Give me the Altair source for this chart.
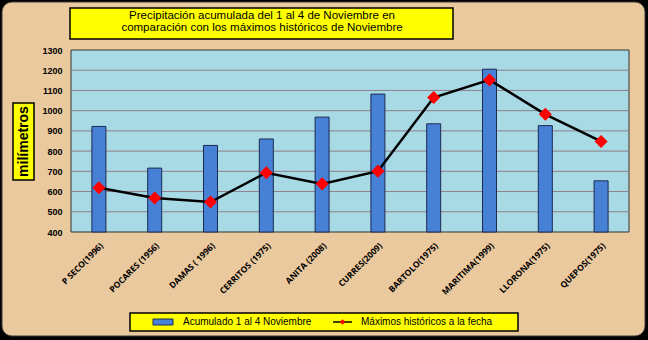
import altair as alt
import pandas as pd

estaciones = ["P SECO(1996)", "POCARES (1956)", "DAMAS ( 1996)", "CERRITOS (1975)",
              "ANITA (2008)", "CURRES(2009)", "BARTOLO(1975)", "MARITIMA(1999)",
              "LLORONA(1975)", "QUEPOS(1975)"]
acumulado = [922, 716, 828, 860, 968, 1082, 935, 1205, 926, 653]
maximos = [619, 568, 548, 693, 638, 701, 1065, 1152, 982, 848]
y_ticks = [400, 500, 600, 700, 800, 900, 1000, 1100, 1200, 1300]
titulo = ["Precipitación  acumulada del 1 al 4 de Noviembre en",
          "comparación con los máximos históricos de Noviembre"]
eje_y = "milímetros"
leyenda = ["Acumulado 1 al 4 Noviembre", "Máximos históricos a la fecha"]

df = pd.DataFrame({"estacion": estaciones, "acumulado": acumulado, "maximo": maximos})
grid_df = pd.DataFrame({"g": y_ticks[1:-1]})
one = pd.DataFrame({"d": [0]})

W, H = 558, 182
FONT = "Liberation Sans"

yscale = alt.Scale(domain=[400, 1300], nice=False, zero=False)
yaxis = alt.Axis(values=y_ticks, format="d", grid=False, domain=False, ticks=False,
                 title=None, labelFont=FONT, labelFontWeight="bold", labelFontSize=9,
                 labelColor="#000000", labelPadding=9, zindex=2)
xenc = alt.X("estacion:N", sort=estaciones,
             scale=alt.Scale(paddingInner=0, paddingOuter=0),
             axis=alt.Axis(labelAngle=-45, title=None, domain=False, ticks=False,
                           labelFont="Open Sans", labelFontWeight="bold",
                           labelFontSize=8.5, labelColor="#000000", labelPadding=9,
                           zindex=2))


def box(x1, x2, y1, y2, fill, stroke="#000000", sw=1, r=0):
    return alt.Chart(one).mark_rect(fill=fill, stroke=stroke, strokeWidth=sw,
                                    cornerRadius=r).encode(
        x=alt.value(x1), x2=alt.value(x2), y=alt.value(y1), y2=alt.value(y2))


def txt(t, x, y, size, weight="normal", align="center", angle=0):
    return alt.Chart(pd.DataFrame({"t": [t]})).mark_text(
        font=FONT, fontSize=size, fontWeight=weight, align=align, baseline="middle",
        angle=angle, color="#000000").encode(
        x=alt.value(x), y=alt.value(y), text="t:N")


panel = box(-69, 574, -48, 286, "#EBC99E", stroke="#3a3a3a", sw=1, r=10)
plotbg = box(0, W, 0, H, "#A8DAE6", stroke="#333333", sw=1)

grid = alt.Chart(grid_df).mark_rule(color="#8E7F8A", strokeWidth=1).encode(
    y=alt.Y("g:Q", scale=yscale, axis=yaxis))

bars = alt.Chart(df).mark_bar(size=14, color="#4681D6", stroke="#1C2A50",
                              strokeWidth=1).encode(
    x=xenc, y=alt.Y("acumulado:Q", scale=yscale, axis=yaxis), y2=alt.datum(400))

line = alt.Chart(df).mark_line(color="#000000", strokeWidth=2.5).encode(
    x=xenc, y=alt.Y("maximo:Q", scale=yscale, axis=yaxis))

pts = alt.Chart(df).mark_point(shape="diamond", filled=True, size=170,
                               color="#FF0000", opacity=1).encode(
    x=xenc, y=alt.Y("maximo:Q", scale=yscale, axis=yaxis))

title_box = box(-1, 382, -42, -11, "#FFFF00", sw=1.5)
t1 = txt(titulo[0], 191, -34, 11.5)
t2 = txt(titulo[1], 191, -22, 11.5)

ybox = box(-58, -37, 53, 130, "#FFFF00", sw=1.5)
ytxt = txt(eje_y, -47, 91.5, 14, weight="bold", angle=270)

leg_box = box(59, 447, 263, 281, "#FFFF00", sw=1.5)
leg_bar = box(82, 102, 269, 275, "#4681D6", stroke="#1C2A50", sw=1)
leg_t1 = txt(leyenda[0], 112, 272, 10, align="left")
leg_line = alt.Chart(one).mark_rule(color="#000000", strokeWidth=1.5).encode(
    x=alt.value(262), x2=alt.value(281), y=alt.value(272))
leg_pt = alt.Chart(one).mark_point(shape="diamond", filled=True, size=30,
                                   color="#FF0000", opacity=1).encode(
    x=alt.value(271.5), y=alt.value(272))
leg_t2 = txt(leyenda[1], 290, 272, 10, align="left")

chart = alt.layer(
    panel, plotbg, grid, bars, line, pts,
    title_box, t1, t2, ybox, ytxt,
    leg_box, leg_bar, leg_t1, leg_line, leg_pt, leg_t2
).properties(
    width=W, height=H,
    autosize=alt.AutoSizeParams(type="none"),
    padding={"left": 71, "top": 50, "right": 19, "bottom": 108},
    background="#000000"
).configure_view(stroke=None)

chart.save("out.html", embed_options={"renderer": "svg", "actions": False})
